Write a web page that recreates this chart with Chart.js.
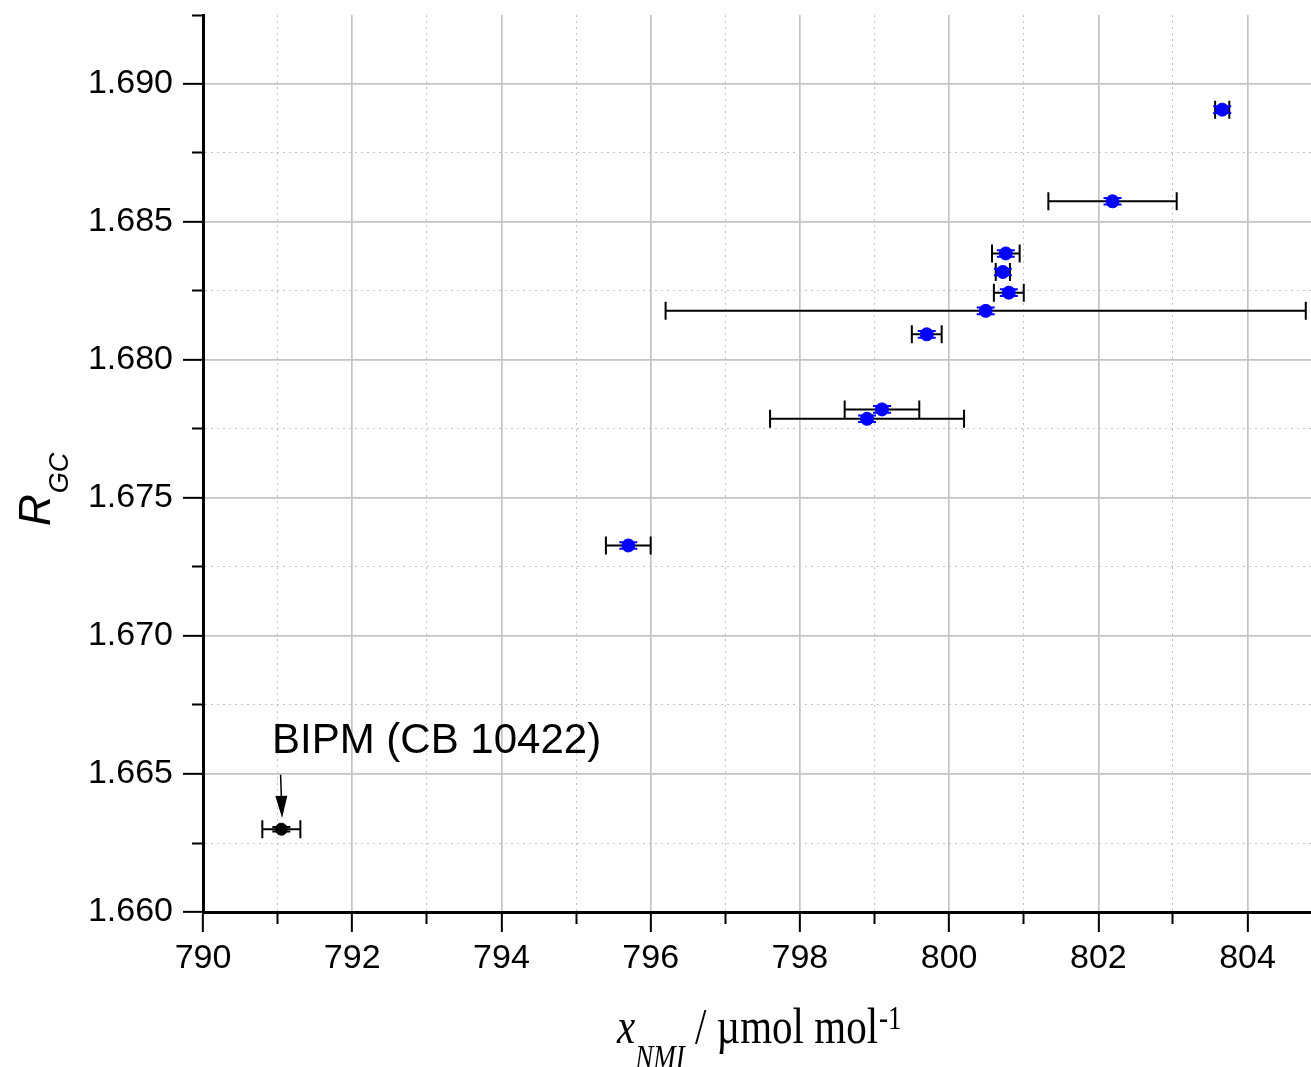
<!DOCTYPE html>
<html>
<head>
<meta charset="utf-8">
<script src="https://cdn.jsdelivr.net/npm/chart.js@4.4.0/dist/chart.umd.min.js"></script>
<style>
    html, body { margin: 0; padding: 0; background: #fff; }
    #wrap { width: 1311px; height: 1067px; }
</style>
</head>
<body>
<div id="wrap"><canvas id="chart" width="1311" height="1067"></canvas></div>
<script>
// NMI results: x_NMI (umol/mol), R_GC, and their uncertainties
const xNmi = [795.70, 798.90, 799.10, 799.70, 800.49, 800.80, 800.72, 800.76, 802.19, 803.66];
const rGc = [1.67328, 1.67787, 1.67821, 1.68093, 1.68178, 1.68244, 1.68319, 1.68386, 1.68575, 1.68907];
const xUnc = [0.30, 1.30, 0.50, 0.20, 4.29, 0.20, 0.095, 0.185, 0.86, 0.095];
const rUnc = [0.00012, 0.00012, 0.00012, 0.00012, 0.00012, 0.00012, 0.00012, 0.00012, 0.00012, 0.00012];

// BIPM reference cylinder
const bipmX = [791.05];
const bipmR = [1.66300];
const bipmXUnc = [0.255];
const bipmRUnc = [0.00008];

// annotation text and arrow (data coordinates)
const bipmLabel = 'BIPM (CB 10422)';
const labelAt = [790.925, 1.66577];
const arrowFrom = [791.04, 1.66497];
const arrowTo = [791.06, 1.66341];

const xMin = 790, xMax = 804.85;
const yMin = 1.66, yMax = 1.6925;

const sans = '"Liberation Sans", Arial, sans-serif';
const serif = '"Liberation Serif", "Times New Roman", serif';

const toPoints = (xs, ys) => xs.map((x, i) => ({ x, y: ys[i] }));

// 1. error bars drawn under the markers
const errorBars = {
    id: 'errorBars',
    beforeDatasetsDraw(chart) {
        const { ctx, scales: { x, y } } = chart;
        const cap = 9;
        const draw = (xs, ys, xe, ye, yColor) => {
            xs.forEach((v, i) => {
                const px = x.getPixelForValue(v);
                const py = y.getPixelForValue(ys[i]);
                const x1 = x.getPixelForValue(v - xe[i]);
                const x2 = x.getPixelForValue(v + xe[i]);
                ctx.strokeStyle = '#000';
                ctx.lineWidth = 2;
                ctx.beginPath();
                ctx.moveTo(x1, py); ctx.lineTo(x2, py);
                ctx.moveTo(x1, py - cap); ctx.lineTo(x1, py + cap);
                ctx.moveTo(x2, py - cap); ctx.lineTo(x2, py + cap);
                ctx.stroke();

                const y1 = y.getPixelForValue(ys[i] + ye[i]);
                const y2 = y.getPixelForValue(ys[i] - ye[i]);
                ctx.strokeStyle = yColor;
                ctx.beginPath();
                ctx.moveTo(px, y1); ctx.lineTo(px, y2);
                ctx.moveTo(px - cap, y1); ctx.lineTo(px + cap, y1);
                ctx.moveTo(px - cap, y2); ctx.lineTo(px + cap, y2);
                ctx.stroke();
            });
        };
        ctx.save();
        draw(xNmi, rGc, xUnc, rUnc, '#0000ff');
        draw(bipmX, bipmR, bipmXUnc, bipmRUnc, '#000');
        ctx.restore();
    }
};

// 2. axis titles and the BIPM annotation
const extras = {
    id: 'extras',
    afterDraw(chart) {
        const { ctx, scales: { x, y } } = chart;
        ctx.save();
        ctx.fillStyle = '#000';
        ctx.strokeStyle = '#000';
        ctx.textBaseline = 'alphabetic';
        ctx.textAlign = 'left';

        // annotation
        ctx.font = `42px ${sans}`;
        ctx.fillText(bipmLabel, x.getPixelForValue(labelAt[0]), y.getPixelForValue(labelAt[1]));

        const ax1 = x.getPixelForValue(arrowFrom[0]), ay1 = y.getPixelForValue(arrowFrom[1]);
        const ax2 = x.getPixelForValue(arrowTo[0]), ay2 = y.getPixelForValue(arrowTo[1]);
        const ang = Math.atan2(ay2 - ay1, ax2 - ax1);
        const head = 22, half = 6;
        ctx.lineWidth = 1.5;
        ctx.beginPath();
        ctx.moveTo(ax1, ay1);
        ctx.lineTo(ax2 - head * Math.cos(ang), ay2 - head * Math.sin(ang));
        ctx.stroke();
        ctx.beginPath();
        ctx.moveTo(ax2, ay2);
        ctx.lineTo(ax2 - head * Math.cos(ang) + half * Math.sin(ang), ay2 - head * Math.sin(ang) - half * Math.cos(ang));
        ctx.lineTo(ax2 - head * Math.cos(ang) - half * Math.sin(ang), ay2 - head * Math.sin(ang) + half * Math.cos(ang));
        ctx.closePath();
        ctx.fill();

        // x title: x_NMI / umol mol^-1 (the original is drawn a bit tall)
        ctx.save();
        ctx.translate(617, 1043);
        ctx.scale(1, 1.25);
        let cx = 0;
        ctx.font = `italic 41px ${serif}`;
        ctx.fillText('x', cx, 0);
        cx += ctx.measureText('x').width;
        ctx.font = `italic 27px ${serif}`;
        ctx.fillText('NMI', cx, 20);
        cx += ctx.measureText('NMI').width;
        ctx.font = `41px ${serif}`;
        const unit = ' / \u00b5mol mol';
        ctx.fillText(unit, cx, 0);
        cx += ctx.measureText(unit).width;
        ctx.font = `27px ${serif}`;
        ctx.fillText('-1', cx + 1, -11);
        ctx.restore();

        // y title: R_GC, rotated
        ctx.translate(50, 526);
        ctx.rotate(-Math.PI / 2);
        ctx.font = `italic 44px ${sans}`;
        ctx.fillText('R', 0, 0);
        const rw = ctx.measureText('R').width;
        ctx.font = `italic 27px ${sans}`;
        ctx.fillText('GC', rw + 1, 18);
        ctx.restore();
    }
};

const minor = ctx => ctx.index % 2 === 1;
const atTop = ctx => ctx.tick && ctx.tick.value > yMax - 1e-6;

new Chart(document.getElementById('chart'), {
    type: 'scatter',
    data: {
        datasets: [
            {
                label: 'NMI',
                data: toPoints(xNmi, rGc),
                backgroundColor: '#0000ff',
                borderColor: '#0000ff',
                pointRadius: 6.5,
                pointHoverRadius: 6.5
            },
            {
                label: 'BIPM',
                data: toPoints(bipmX, bipmR),
                backgroundColor: '#000',
                borderColor: '#000',
                pointRadius: 6,
                pointHoverRadius: 6
            }
        ]
    },
    options: {
        responsive: false,
        animation: false,
        devicePixelRatio: 1,
        layout: { autoPadding: false, padding: { top: 15, right: 0, left: 0, bottom: 0 } },
        plugins: { legend: { display: false }, tooltip: { enabled: false } },
        scales: {
            x: {
                type: 'linear',
                min: xMin,
                max: xMax,
                afterFit: s => { s.height = 155; s.paddingLeft = 0; s.paddingRight = 0; },
                ticks: {
                    stepSize: 1,
                    autoSkip: false,
                    maxTicksLimit: 100,
                    includeBounds: false,
                    maxRotation: 0,
                    padding: 6,
                    color: '#000',
                    font: { family: sans, size: 34 },
                    callback: (v, i) => (i % 2 ? '' : v.toFixed(0))
                },
                grid: {
                    color: '#c4c4c4',
                    lineWidth: ctx => (minor(ctx) ? 1 : 1.7),
                    tickColor: '#000',
                    tickWidth: 2,
                    tickLength: 20,
                    tickBorderDash: ctx => (minor(ctx) ? [10, 100] : [])
                },
                border: {
                    color: '#000',
                    width: 3,
                    dash: ctx => (ctx.type === 'tick' && minor(ctx) ? [2, 4] : [])
                }
            },
            y: {
                type: 'linear',
                min: yMin,
                max: yMax,
                afterFit: s => { s.width = 203; s.paddingTop = 0; s.paddingBottom = 0; },
                ticks: {
                    stepSize: 0.0025,
                    autoSkip: false,
                    maxTicksLimit: 100,
                    includeBounds: false,
                    padding: 10,
                    color: '#000',
                    font: { family: sans, size: 34 },
                    callback: (v, i) => (i % 2 ? '' : v.toFixed(3))
                },
                grid: {
                    color: ctx => (atTop(ctx) ? 'rgba(0,0,0,0)' : '#c4c4c4'),
                    lineWidth: ctx => (minor(ctx) ? 1 : 1.7),
                    tickColor: '#000',
                    tickWidth: 2,
                    tickLength: 20,
                    tickBorderDash: ctx => (minor(ctx) ? [0, 9, 11, 100] : [])
                },
                border: {
                    color: '#000',
                    width: 3,
                    dash: ctx => (ctx.type === 'tick' && minor(ctx) ? [2, 4] : [])
                }
            }
        }
    },
    plugins: [errorBars, extras]
});
</script>
</body>
</html>
